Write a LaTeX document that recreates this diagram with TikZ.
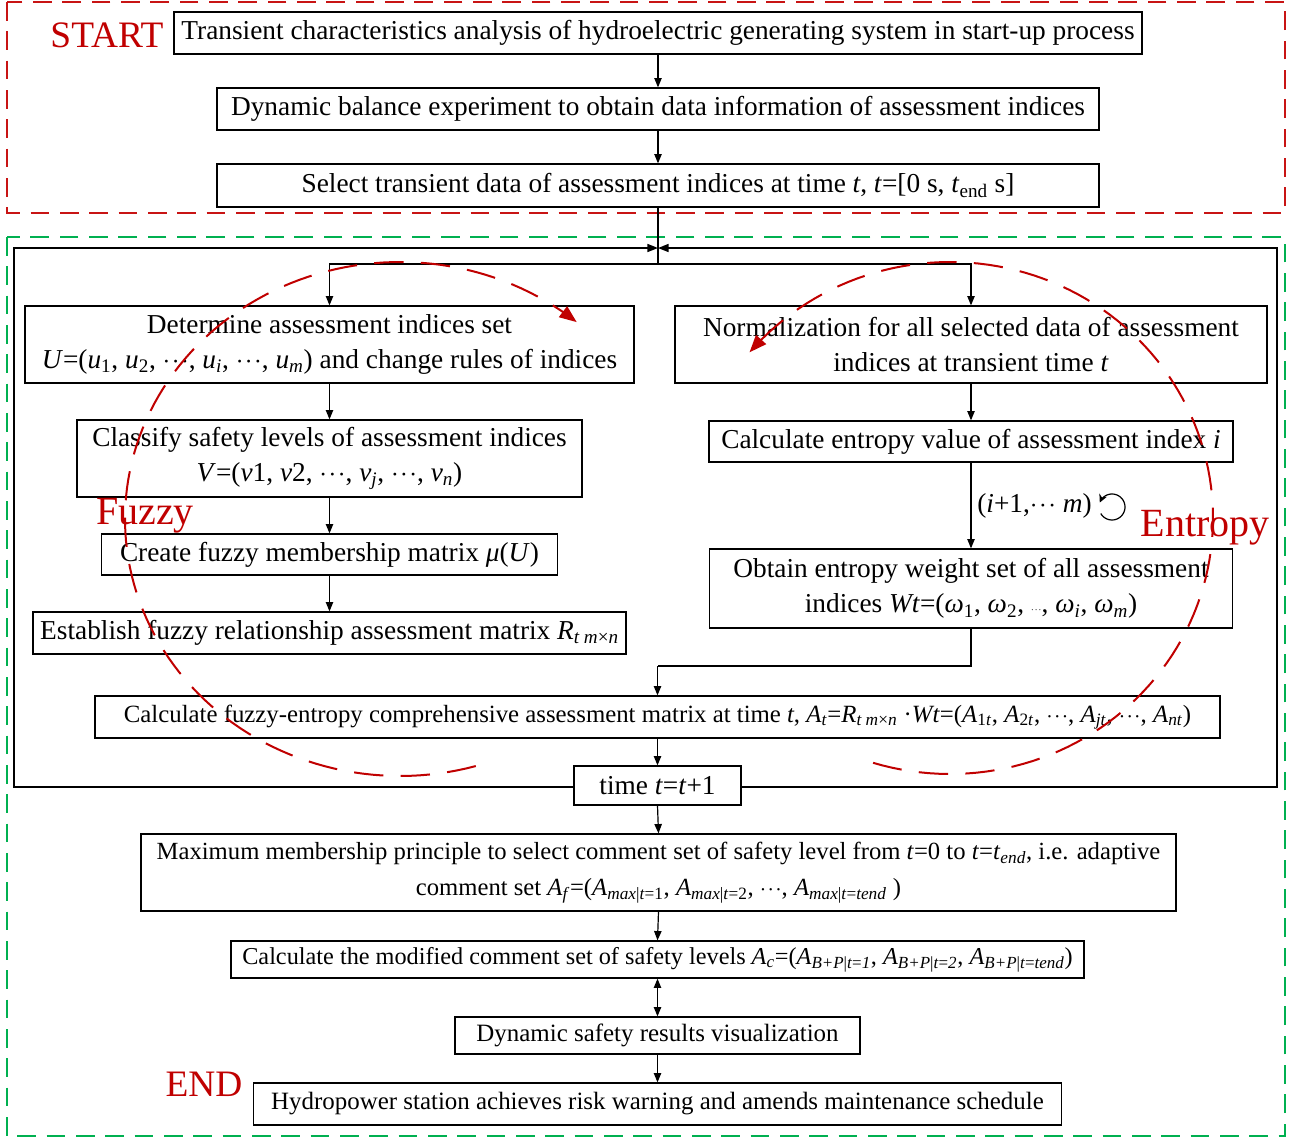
\documentclass[tikz,border=0pt]{standalone}
\usepackage{fontspec}
\setmainfont{Liberation Serif}
\usetikzlibrary{arrows.meta,calc}
\definecolor{dred}{RGB}{200,20,20}
\definecolor{lred}{RGB}{192,0,0}
\definecolor{dgreen}{RGB}{0,176,80}
\newcommand\ii[1]{\textit{#1}}
\newcommand\lsub[1]{\textsubscript{#1}}
\newcommand\dts{$\cdotp\mkern-2mu\cdotp\mkern-2mu\cdotp$}
\begin{document}
\begin{tikzpicture}[x=0.75pt,y=-0.75pt,
  box/.style={draw, line width=0.9pt, fill=white, inner sep=0pt, align=center, font=\fontsize{20.5}{26.5}\selectfont},
  wh/.style 2 args={minimum width=#1*0.75pt, minimum height=#2*0.75pt},
  arr/.style={line width=0.9pt, -{Triangle[length=7pt,width=5.5pt]}},
  ln/.style={line width=0.9pt},
  frame/.style={line width=1.4pt, dash pattern=on 14pt off 8pt},
  big/.style={text=lred, font=\fontsize{28}{32}\selectfont},
  bigger/.style={text=lred, font=\fontsize{30}{34}\selectfont},
  circ/.style={draw=lred, line width=1.5pt, dash pattern=on 22pt off 13pt, -{Triangle[length=13pt,width=10pt]}},
]
\useasboundingbox (0,0) rectangle (1297,1139);
% frames
\draw[frame, draw=dred] (7,2) rectangle (1285,213);
\draw[frame, draw=dgreen] (7,237) rectangle (1285,1136);

% top boxes
\node[box, wh={968}{42}] (b1) at (658,33) {Transient characteristics analysis of hydroelectric generating system in start-up process};
\node[box, wh={882}{42}] (b2) at (658,109) {Dynamic balance experiment to obtain data information of assessment indices};
\node[box, wh={882}{43}] (b3) at (658,185.5) {Select transient data of assessment indices at time \ii{t}, \ii{t}=[0 s, \ii{t}\lsub{end} s]};

% left column
\node[box, wh={609}{77}] (det) at (329.5,344.5) {Determine assessment indices set\\ \ii{U}=(\ii{u}\lsub{1}, \ii{u}\lsub{2}, \dts, \ii{u}\lsub{\ii{i}}, \dts, \ii{u}\lsub{\ii{m}}) and change rules of indices};
\node[box, wh={505}{77}] (cla) at (329.5,458.5) {Classify safety levels of assessment indices\\ \ii{V}=(\ii{v}1, \ii{v}2, \dts, \ii{v}\lsub{\ii{j}}, \dts, \ii{v}\lsub{\ii{n}})};
\node[box, wh={456}{41}] (cre) at (329.5,554.5) {Create fuzzy membership matrix \ii{μ}(\ii{U})};
\node[box, wh={593}{42}] (est) at (329.5,633) {Establish fuzzy relationship assessment matrix \ii{R}\lsub{\ii{t m}×\ii{n}}};

% right column
\node[box, wh={592}{77}] (nor) at (971,344.5) {Normalization for all selected data of assessment\\ indices at transient time \ii{t}};
\node[box, wh={524}{41}] (ent) at (971,441.5) {Calculate entropy value of assessment index \ii{i}};
\node[box, wh={523}{79}] (obt) at (971,588.5) {Obtain entropy weight set of all assessment\\ indices \ii{Wt}=(\ii{ω}\lsub{1}, \ii{ω}\lsub{2}, {\scriptsize\dts}, \ii{ω}\lsub{\ii{i}}, \ii{ω}\lsub{\ii{m}})};

% lower spine
\node[box, wh={1125}{42}, font=\fontsize{18.6}{22}\selectfont] (cal) at (657.5,717) {Calculate fuzzy-entropy comprehensive assessment matrix at time \ii{t}, \ii{A}\lsub{\ii{t}}=\ii{R}\lsub{\ii{t m}×\ii{n}} ·\ii{Wt}=(\ii{A}\lsub{1\ii{t}}, \ii{A}\lsub{2\ii{t}}, \dts, \ii{A}\lsub{\ii{jt}}, \dts, \ii{A}\lsub{\ii{nt}})};
\node[box, wh={167}{39}] (tim) at (657.5,785.5) {time \ii{t}=\ii{t}+1};
\node[box, wh={1035}{77}, font=\fontsize{18.5}{27}\selectfont] (max) at (658.5,872.5) {Maximum membership principle to select comment set of safety level from \ii{t}=0 to \ii{t}=\ii{t}\lsub{\ii{end}}, i.e. adaptive\\ comment set \ii{A}\lsub{\ii{f}}=(\ii{A}\lsub{\ii{max}|\ii{t}=1}, \ii{A}\lsub{\ii{max}|\ii{t}=2}, \dts, \ii{A}\lsub{\ii{max}|\ii{t}=\ii{tend}} )};
\node[box, wh={853}{37}, font=\fontsize{18.2}{22}\selectfont] (mod) at (657.5,959.5) {Calculate the modified comment set of safety levels \ii{A}\lsub{\ii{c}}=(\ii{A}\lsub{\ii{B+P}|\ii{t}=\ii{1}}, \ii{A}\lsub{\ii{B+P}|\ii{t}=\ii{2}}, \ii{A}\lsub{\ii{B+P}|\ii{t}=\ii{tend}})};
\node[box, wh={405}{37}, font=\fontsize{18.7}{22}\selectfont] (dyn) at (657.5,1035.5) {Dynamic safety results visualization};
\node[box, wh={808}{42}, font=\fontsize{18.7}{22}\selectfont] (hyd) at (657.5,1104) {Hydropower station achieves risk warning and amends maintenance schedule};

% labels
\node[big] (lstart) at (107,35) {START};
\node[bigger] (lfuzzy) at (145,516) {Fuzzy};
\node[bigger] (lentropy) at (1205,528) {Entropy};
\node[big] (lend) at (204,1084) {END};

% connectors top
\draw[arr] (b1.south) -- (b2.north);
\draw[arr] (b2.south) -- (b3.north);
\coordinate (split) at (658,264);
\draw[ln] (b3.south) -- (split);
\draw[arr] (split) -| (det.north);
\draw[arr] (split) -| (nor.north);

% inner loop box
\coordinate (top) at (658,248);
\coordinate (LB) at (14,787);
\coordinate (LT) at (14,248);
\coordinate (RB) at (1277,787);
\coordinate (RT) at (1277,248);
\draw[line width=1.2pt, -{Triangle[length=8pt,width=6pt]}] (tim.west |- LB) -- (LB) -- (LT) -- (top);
\draw[line width=1.2pt, -{Triangle[length=8pt,width=6pt]}] (tim.east |- RB) -- (RB) -- (RT) -- (top);

% left column arrows
\draw[arr] (det.south) -- (cla.north);
\draw[arr] (cla.south) -- (cre.north);
\draw[arr] (cre.south) -- (est.north);

% right column arrows
\draw[arr] (nor.south) -- (ent.north);
\draw[arr] (ent.south) -- node[right, font=\fontsize{20.5}{22}\selectfont, xshift=1pt] (loopl) {(\ii{i}+1,\dts{} \ii{m})} (obt.north);
\draw[line width=0.9pt, -{Stealth[length=6pt,width=6pt]}] plot[domain=0:1, samples=40] ({1112+13*cos(150-310*\x)},{507+13*sin(150-310*\x)});
\coordinate (merge) at (657.5,666);
\draw[ln] (obt.south) |- (merge);
\draw[arr] (merge) -- (cal.north);

% lower spine
\draw[arr] (cal.south) -- (tim.north);
\draw[arr] (tim.south) -- (max.north);
\draw[arr] (max.south) -- (mod.north);
\draw[line width=0.9pt, {Triangle[length=7pt,width=5.5pt]}-{Triangle[length=7pt,width=5.5pt]}] (mod.south) -- (dyn.north);
\draw[arr] (dyn.south) -- (hyd.north);

% dashed red ellipses
\draw[circ] plot[domain=74:310, samples=120] ({400+275*cos(\x)},{519+257*sin(\x)});
\draw[circ] plot[domain=0:1, samples=120] ({950+263*cos(107-247*\x)},{518+256*sin(107-247*\x)});
\end{tikzpicture}
\end{document}
